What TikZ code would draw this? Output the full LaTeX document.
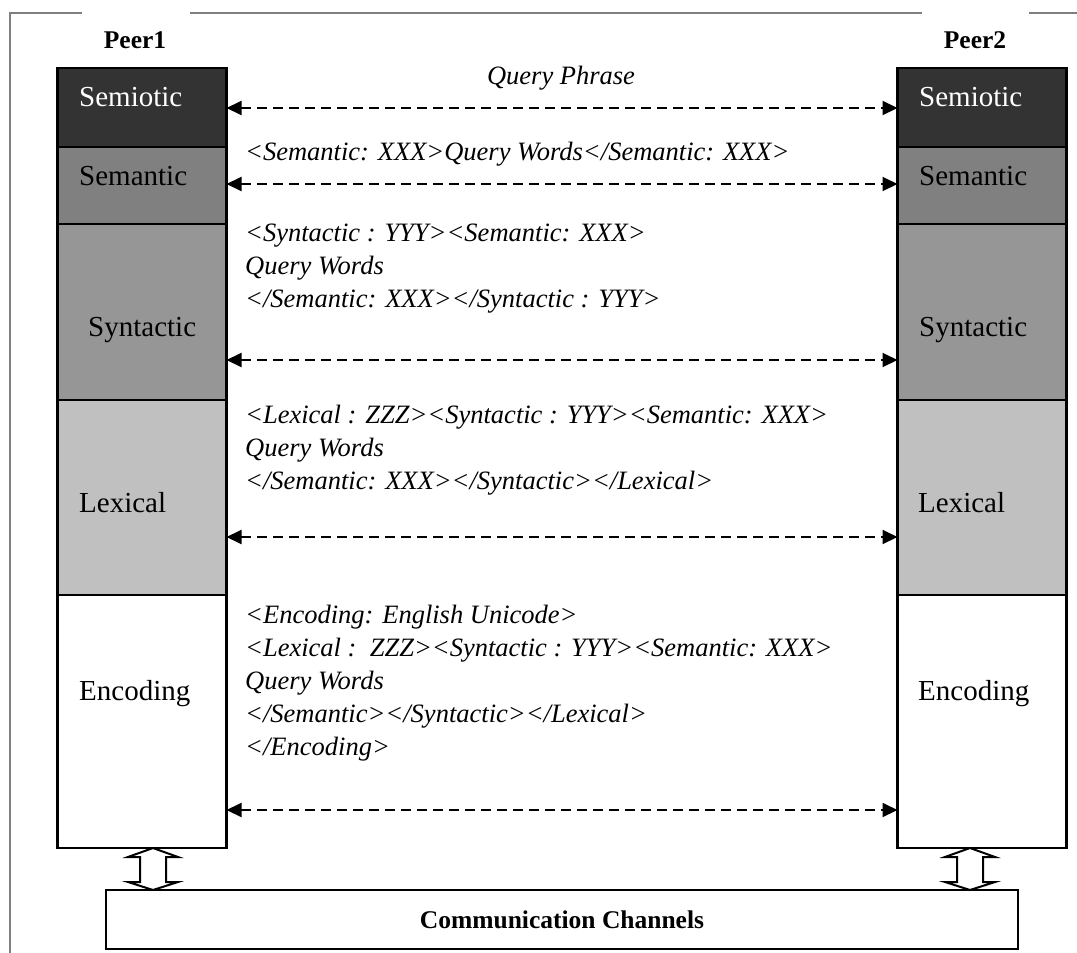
\documentclass[tikz,border=0pt]{standalone}
\usepackage{fontspec}
\setmainfont{Liberation Serif}
\usetikzlibrary{arrows.meta,calc}
\definecolor{semioticfill}{HTML}{333333}
\definecolor{semanticfill}{HTML}{808080}
\definecolor{syntacticfill}{HTML}{969696}
\definecolor{lexicalfill}{HTML}{C0C0C0}
\definecolor{framecol}{HTML}{7F7F7F}
\begin{document}
\begin{tikzpicture}[x=1pt,y=-1pt,
  layer/.style={draw=black, line width=2.2pt, minimum width=169pt, inner sep=0pt, outer sep=0pt},
  lbl/.style={anchor=base west, inner sep=0pt, font=\fontsize{29}{34}\selectfont},
  msg/.style={anchor=base west, inner sep=0pt, font=\fontsize{26.5}{32}\selectfont\itshape},
  peer/.style={anchor=base, inner sep=0pt, font=\fontsize{25.5}{30}\selectfont\bfseries},
  link/.style={line width=2pt, dash pattern=on 10pt off 6pt,
    {Triangle[length=15pt,width=14pt]}-{Triangle[length=15pt,width=14pt]}},
  updown/.style={draw=black, fill=white, line width=2pt, line join=miter}]
\useasboundingbox (0,0) rectangle (1077,953);

% partial frame
\draw[framecol, line width=1.5pt] (10,953) -- (10,13) -- (82,13);
\draw[framecol, line width=1.5pt] (190,13) -- (922,13);
\draw[framecol, line width=1.5pt] (1029,13) -- (1077,13);

% peer titles
\node[peer] (t1) at (135,48) {Peer1};
\node[peer] (t2) at (975,48) {Peer2};

% protocol stacks
\foreach \p/\cx in {p1/142, p2/982} {
  \node[layer, fill=semioticfill,  minimum height=79pt]  (\p semio) at (\cx,107.5) {};
  \node[layer, fill=semanticfill,  minimum height=77pt]  (\p sema)  at (\cx,185.5) {};
  \node[layer, fill=syntacticfill, minimum height=176pt] (\p synt)  at (\cx,312) {};
  \node[layer, fill=lexicalfill,   minimum height=195pt] (\p lexi)  at (\cx,497.5) {};
  \node[layer, fill=white,         minimum height=253pt] (\p enco)  at (\cx,721.5) {};
}

% layer names
\node[lbl, text=white] (l1a) at (79,106)  {Semiotic};
\node[lbl] (l1b) at (79,185) {Semantic};
\node[lbl] (l1c) at (88,336) {Syntactic};
\node[lbl] (l1d) at (79,512) {Lexical};
\node[lbl] (l1e) at (79,700) {Encoding};
\node[lbl, text=white] (l2a) at (919,106)  {Semiotic};
\node[lbl] (l2b) at (919,185) {Semantic};
\node[lbl] (l2c) at (919,336) {Syntactic};
\node[lbl] (l2d) at (918,512) {Lexical};
\node[lbl] (l2e) at (918,700) {Encoding};

% peer-to-peer exchanges
\draw[link] (p1semio.east |- 0,108) -- (p2semio.west |- 0,108);
\draw[link] (p1sema.east |- 0,184)  -- (p2sema.west |- 0,184);
\draw[link] (p1synt.east |- 0,360)  -- (p2synt.west |- 0,360);
\draw[link] (p1lexi.east |- 0,537)  -- (p2lexi.west |- 0,537);
\draw[link] (p1enco.east |- 0,810)  -- (p2enco.west |- 0,810);

% message formats
\node[msg, anchor=base] (m0) at (561,84) {Query Phrase};
\node[msg] (m1) at (245,160) {<Semantic: XXX>Query Words</Semantic: XXX>};
\node[msg] (m2a) at (245,241) {<Syntactic : YYY><Semantic: XXX>};
\node[msg] (m2b) at (245,274) {Query Words};
\node[msg] (m2c) at (245,307) {</Semantic: XXX></Syntactic : YYY>};
\node[msg] (m3a) at (245,423) {<Lexical : ZZZ><Syntactic : YYY><Semantic: XXX>};
\node[msg] (m3b) at (245,456) {Query Words};
\node[msg] (m3c) at (245,489) {</Semantic: XXX></Syntactic></Lexical>};
\node[msg] (m4a) at (245,623) {<Encoding: English Unicode>};
\node[msg] (m4b) at (245,656) {<Lexical :\ \ ZZZ><Syntactic : YYY><Semantic: XXX>};
\node[msg] (m4c) at (245,689) {Query Words};
\node[msg] (m4d) at (245,722) {</Semantic></Syntactic></Lexical>};
\node[msg] (m4e) at (245,755) {</Encoding>};

% communication channels
\node[draw=black, line width=2.2pt, minimum width=912pt, minimum height=59pt,
      inner sep=0pt, font=\fontsize{25.5}{30}\selectfont\bfseries] (cc) at (562,919.5)
      {Communication Channels};

% up/down block arrows between stacks and channels
\foreach \ax in {153, 970} {
  \draw[updown, shift={(\ax,848)}] (0,0) -- (25,9) -- (13,9) -- (13,34) -- (25,34)
    -- (0,42) -- (-25,34) -- (-13,34) -- (-13,9) -- (-25,9) -- cycle;
}
\end{tikzpicture}
\end{document}
